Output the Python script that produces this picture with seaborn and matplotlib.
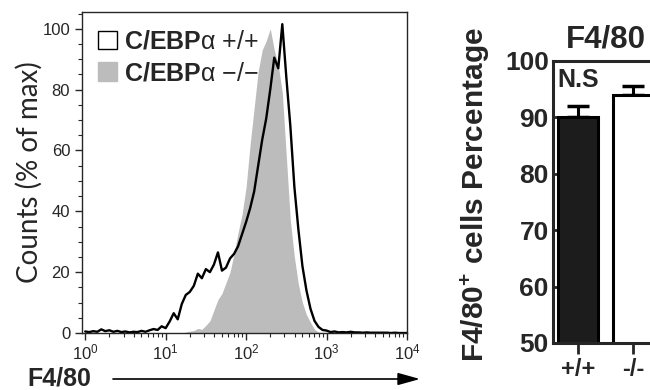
import numpy as np
import matplotlib
matplotlib.use("Agg")
import matplotlib.pyplot as plt
from matplotlib.patches import Patch
from matplotlib.ticker import MultipleLocator
import seaborn as sns

# histogram channels (log10 of F4/80 intensity) and % of max counts
log_f480 = [0.00, 0.05, 0.10, 0.15, 0.20, 0.25, 0.30, 0.35, 0.40, 0.45,
            0.50, 0.55, 0.60, 0.65, 0.70, 0.75, 0.80, 0.85, 0.90, 0.95,
            1.00, 1.05, 1.10, 1.15, 1.20, 1.25, 1.30, 1.35, 1.40, 1.45,
            1.50, 1.55, 1.60, 1.65, 1.70, 1.75, 1.80, 1.85, 1.90, 1.95,
            2.00, 2.05, 2.10, 2.15, 2.20, 2.25, 2.30, 2.35, 2.40, 2.45,
            2.50, 2.55, 2.60, 2.65, 2.70, 2.75, 2.80, 2.85, 2.90, 2.95,
            3.00, 3.05, 3.10, 3.15, 3.20, 3.25, 3.30, 3.35, 3.40, 3.45,
            3.50, 3.55, 3.60, 3.65, 3.70, 3.75, 3.80, 3.85, 3.90, 3.95, 4.00]

wt_counts = [0.5, 0.3, 0.6, 0.4, 1.2, 0.6, 0.9, 0.4, 0.7, 0.3,
             0.5, 0.2, 0.4, 0.3, 0.7, 0.4, 0.9, 1.3, 1.0, 2.2,
             1.6, 3.8, 6.5, 4.5, 9.5, 12.5, 13.5, 15.5, 19.5, 18.0,
             21.0, 20.0, 22.5, 26.5, 20.5, 21.5, 24.5, 26.0, 28.5, 32.5,
             36.5, 41.0, 46.5, 55.0, 63.5, 70.5, 80.0, 90.5, 87.0, 101.5,
             84.0, 68.0, 48.0, 34.0, 22.0, 14.0, 8.0, 4.0, 2.0, 1.0,
             0.8, 0.3, 0.5, 0.2, 0.3, 0.2, 0.4, 0.2, 0.2, 0.1,
             0.2, 0.1, 0.1, 0.1, 0.1, 0.1, 0.0, 0.1, 0.0, 0.0, 0.0]

ko_counts = [0, 0, 0, 0, 0, 0, 0, 0, 0, 0,
             0, 0, 0, 0, 0, 0, 0, 0, 0, 0,
             0, 0, 0, 0, 0, 0.3, 0.6, 0.8, 1.5, 1.2,
             2.5, 4.0, 7.5, 11.0, 13.0, 16.5, 20.0, 26.0, 33.0, 39.0,
             48.0, 62.0, 74.0, 86.0, 93.0, 96.0, 100.0, 93.0, 88.0, 79.0,
             58.0, 37.0, 25.0, 16.0, 10.0, 6.0, 3.5, 1.2, 0.3, 0,
             0, 0, 0, 0, 0, 0, 0, 0, 0, 0,
             0, 0, 0, 0, 0, 0, 0, 0, 0, 0, 0]

# bar panel
genotype = ["+/+", "-/-"]
f480_pct = [90.0, 94.0]
f480_sem = [2.0, 1.6]

sns.set_style("ticks")
plt.rcParams["font.family"] = ["Liberation Sans", "DejaVu Sans"]
plt.rcParams["mathtext.fontset"] = "custom"
plt.rcParams["mathtext.rm"] = "Liberation Sans"
plt.rcParams["mathtext.bf"] = "Liberation Sans:bold"

fig = plt.figure(figsize=(6.5, 3.9), dpi=100)
ax1 = fig.add_axes([82 / 650, 57 / 390, 325 / 650, 321 / 390])
ax2 = fig.add_axes([553 / 650, 47 / 390, 105 / 650, 282 / 390])

# ---- histogram overlay ----
f480 = 10 ** np.array(log_f480)
ax1.fill_between(f480, ko_counts, color="#bcbcbc", lw=0)
sns.lineplot(x=f480, y=wt_counts, ax=ax1, color="black", lw=1.7, estimator=None)
ax1.set_xscale("log")
ax1.set_xlim(10 ** -0.04, 10 ** 4)
ax1.set_ylim(0, 105.5)
ax1.yaxis.set_major_locator(MultipleLocator(20))
ax1.yaxis.set_minor_locator(MultipleLocator(5))
ax1.tick_params(which="major", direction="out", length=5, width=1, labelsize=12)
ax1.tick_params(which="minor", direction="out", length=3, width=0.8)
ax1.tick_params(axis="x", labelsize=12, pad=2)
for s in ax1.spines.values():
    s.set_linewidth(1.0)
ax1.set_ylabel("Counts (% of max)", fontsize=20, family="Lato")
ax1.yaxis.set_label_coords(-0.12, 0.5)

handles = [Patch(facecolor="white", edgecolor="black", lw=1),
           Patch(facecolor="#bcbcbc", edgecolor="#bcbcbc")]
labels = [r"$\mathbf{C/EBP}$α +/+", r"$\mathbf{C/EBP}$α −/−"]
ax1.legend(handles, labels, loc="upper left", bbox_to_anchor=(0.05, 0.945),
           frameon=False, fontsize=18, handlelength=0.75, handleheight=0.75,
           handletextpad=0.3, labelspacing=0.3, borderpad=0, borderaxespad=0)

fig.text(27 / 650, 1 - 378 / 390, "F4/80", fontsize=18, fontweight="bold", va="center")
ax1.annotate("", xy=(420 / 650, 1 - 379 / 390), xytext=(113 / 650, 1 - 379 / 390),
             xycoords="figure fraction", textcoords="figure fraction",
             arrowprops=dict(arrowstyle="-|>,head_length=0.9,head_width=0.25",
                             lw=1.2, color="black", mutation_scale=15,
                             shrinkA=0, shrinkB=0))

# ---- bar panel ----
sns.barplot(x=genotype, y=f480_pct, hue=genotype, palette=["#1c1c1c", "white"],
            legend=False, ax=ax2, width=0.727, edgecolor="black", linewidth=2.2,
            errorbar=None)
ax2.errorbar([0, 1], f480_pct, yerr=[[0, 0], f480_sem], fmt="none",
             ecolor="black", elinewidth=2.2, capsize=8, capthick=2.5, zorder=0.5)
ax2.set_xlim(-0.455, 1.455)
ax2.set_ylim(50, 100)
ax2.yaxis.set_major_locator(MultipleLocator(10))
for s in ax2.spines.values():
    s.set_linewidth(2.2)
ax2.tick_params(axis="y", direction="in", length=6, width=2, labelsize=19, pad=3)
ax2.tick_params(axis="x", direction="out", length=8, width=2, labelsize=17, pad=3)
for lab in ax2.get_xticklabels() + ax2.get_yticklabels():
    lab.set_fontweight("bold")
ax2.set_ylabel(r"F4/80$^{\mathbf{+}}$ cells Percentage", fontsize=21.5, fontweight="bold")
ax2.yaxis.set_label_coords(-0.58, 0.525)
ax2.set_title("F4/80", fontsize=22.5, fontweight="bold", pad=10)
ax2.text(0, 96.6, "N.S", ha="center", va="center", fontsize=18, fontweight="bold")

fig.savefig("out.png", dpi=100)
